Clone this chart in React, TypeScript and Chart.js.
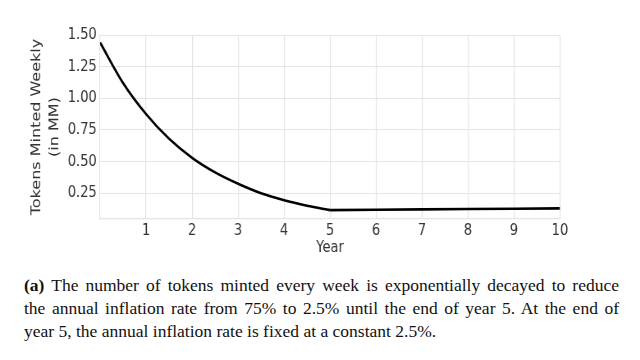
import React, { useEffect, useRef } from "react";
import { Chart, registerables } from "chart.js";

Chart.register(...registerables);

// Decay phase (years 0-5), weekly tokens minted in millions
const decayYears = [0, 0.5, 1, 1.5, 2, 2.5, 3, 3.5, 4, 4.5, 5];
const decayValues = [1.44, 1.12, 0.875, 0.68, 0.53, 0.415, 0.325, 0.25, 0.195, 0.152, 0.117];

// Constant-inflation phase (years 5-10)
const flatYears = [5, 6, 7, 8, 9, 10];
const flatValues = [0.117, 0.12, 0.123, 0.126, 0.128, 0.131];

const xTicks = [1, 2, 3, 4, 5, 6, 7, 8, 9, 10];
const yTicks = [0.25, 0.5, 0.75, 1.0, 1.25, 1.5];

const yTitle = ["Tokens Minted Weekly", "(in MM)"];
const xTitle = "Year";

const captionLines = [
  "The number of tokens minted every week is exponentially decayed to reduce",
  "the annual inflation rate from 75% to 2.5% until the end of year 5. At the end of",
  "year 5, the annual inflation rate is fixed at a constant 2.5%.",
];
const captionLabel = "(a)";

const SX = 0.8205; // horizontal squeeze of the figure
const CW = 780;
const CH = 258;

export default function App() {
  const canvasRef = useRef<HTMLCanvasElement | null>(null);

  useEffect(() => {
    if (!canvasRef.current) return;
    const gridColor = "#e4e4e4";
    const textColor = "#333333";
    const chart = new Chart(canvasRef.current, {
      type: "line",
      data: {
        datasets: [
          {
            data: decayYears.map((x, i) => ({ x, y: decayValues[i] })),
            borderColor: "#000000",
            borderWidth: 2.6,
            pointRadius: 0,
            cubicInterpolationMode: "monotone",
            fill: false,
          },
          {
            data: flatYears.map((x, i) => ({ x, y: flatValues[i] })),
            borderColor: "#000000",
            borderWidth: 2.6,
            pointRadius: 0,
            tension: 0,
            fill: false,
          },
        ],
      },
      options: {
        animation: false,
        responsive: false,
        maintainAspectRatio: false,
        layout: { padding: { left: 0, right: 97.5, top: 35, bottom: 0 } },
        plugins: { legend: { display: false }, tooltip: { enabled: false } },
        scales: {
          x: {
            type: "linear",
            min: 0,
            max: 10,
            afterBuildTicks: (s: any) => {
              s.ticks = xTicks.map((v) => ({ value: v }));
            },
            afterFit: (s: any) => {
              s.height = 39;
            },
            grid: { color: gridColor, lineWidth: 1.2, drawTicks: false },
            border: { display: true, color: gridColor, width: 1.2 },
            ticks: {
              color: textColor,
              padding: 2,
              maxRotation: 0,
              autoSkip: false,
              font: { family: "DejaVu Sans", size: 16, lineHeight: 1.2 },
            },
            title: {
              display: true,
              text: xTitle,
              color: textColor,
              font: { family: "DejaVu Sans", size: 16, lineHeight: 1.2 },
              padding: { top: 0, bottom: 0.5 },
            },
          },
          y: {
            type: "linear",
            min: 0.047,
            max: 1.5,
            afterBuildTicks: (s: any) => {
              s.ticks = yTicks.map((v) => ({ value: v }));
            },
            afterFit: (s: any) => {
              s.width = 122;
            },
            grid: { color: gridColor, lineWidth: 1, drawTicks: false },
            border: { display: true, color: gridColor, width: 1.2 },
            ticks: {
              color: textColor,
              padding: 4,
              autoSkip: false,
              font: { family: "DejaVu Sans", size: 16 },
              callback: (v: any) => Number(v).toFixed(2),
            },
            title: {
              display: true,
              text: yTitle,
              color: textColor,
              font: { family: "DejaVu Sans", size: 16, lineHeight: 1.35 },
              padding: { top: 34, bottom: 0 },
            },
          },
        },
      },
    });
    return () => chart.destroy();
  }, []);

  return (
    <div style={{ position: "absolute", left: 0, top: 0, width: 640, height: 360, background: "#fff", overflow: "hidden" }}>
      <canvas
        ref={canvasRef}
        width={CW}
        height={CH}
        style={{
          position: "absolute",
          left: 0,
          top: 0,
          width: CW,
          height: CH,
          transform: `scaleX(${SX})`,
          transformOrigin: "0 0",
        }}
      />
      <div
        style={{
          position: "absolute",
          left: 24,
          top: 274,
          width: 595,
          fontFamily: "'Liberation Serif', serif",
          fontSize: 17.5,
          lineHeight: "23px",
          color: "#111",
        }}
      >
        {captionLines.map((line, i) => (
          <div
            key={i}
            style={{
              textAlign: "justify",
              textAlignLast: i < captionLines.length - 1 ? "justify" : "left",
              whiteSpace: "nowrap",
            }}
          >
            {i === 0 ? (
              <>
                <b>{captionLabel}</b> {line}
              </>
            ) : (
              line
            )}
          </div>
        ))}
      </div>
    </div>
  );
}
